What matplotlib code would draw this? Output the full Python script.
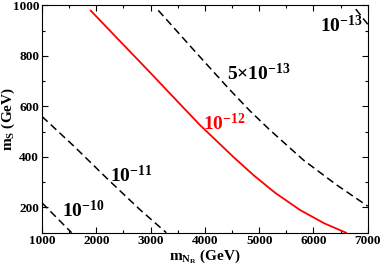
import matplotlib
matplotlib.use("Agg")
import matplotlib.pyplot as plt
from matplotlib.ticker import MultipleLocator

plt.rcParams['font.family'] = 'Liberation Serif'
plt.rcParams['font.weight'] = 'bold'
plt.rcParams['axes.labelweight'] = 'bold'
plt.rcParams['mathtext.fontset'] = 'custom'
plt.rcParams['mathtext.rm'] = 'Liberation Serif:bold'
plt.rcParams['mathtext.it'] = 'Liberation Serif:bold'
plt.rcParams['mathtext.bf'] = 'Liberation Serif:bold'

# contours in the (m_NR, m_S) plane
x_1e12 = [1897, 2400, 2929, 3542, 3910, 4524, 4900, 5300, 5752, 6200, 6600]
y_1e12 = [979, 866, 748, 609, 526, 400, 327, 257, 190, 137, 100]

x_5e13 = [3142, 3787, 4432, 4831, 5200, 5813, 6428, 7000]
y_5e13 = [980, 825, 672, 582, 506, 388, 289, 205]

x_1e13 = [6780, 7000]
y_1e13 = [985, 925]

x_1e11 = [1000, 1600, 2200, 2800, 3290]
y_1e11 = [560, 440, 314, 192, 100]

x_1e10 = [1000, 1240, 1545]
y_1e10 = [218, 166, 100]

fig = plt.figure(figsize=(3.82, 2.72), dpi=100)
ax = fig.add_axes([0.110, 0.1445, 0.8526, 0.836])

dash = (0, (5, 2.8))
ax.plot(x_1e12, y_1e12, color='red', lw=1.3)
ax.plot(x_5e13, y_5e13, color='black', lw=1.1, linestyle=dash)
ax.plot(x_1e13, y_1e13, color='black', lw=1.1, linestyle=dash)
ax.plot(x_1e11, y_1e11, color='black', lw=1.1, linestyle=dash)
ax.plot(x_1e10, y_1e10, color='black', lw=1.1, linestyle=dash)

ax.text(3960, 505, r'$10^{-12}$', color='red', fontsize=14)
ax.text(4415, 705, r'5×$10^{-13}$', color='black', fontsize=14)
ax.text(6120, 895, r'$10^{-13}$', color='black', fontsize=14)
ax.text(2250, 300, r'$10^{-11}$', color='black', fontsize=14)
ax.text(1360, 160, r'$10^{-10}$', color='black', fontsize=14)

ax.set_xlim(1000, 7000)
ax.set_ylim(100, 1000)
ax.xaxis.set_major_locator(MultipleLocator(1000))
ax.xaxis.set_minor_locator(MultipleLocator(500))
ax.yaxis.set_major_locator(MultipleLocator(200))
ax.yaxis.set_minor_locator(MultipleLocator(100))
ax.tick_params(which='both', direction='in', top=True, right=True, labelsize=9.5, width=0.8)
ax.tick_params(which='major', length=4, pad=2)
ax.tick_params(which='minor', length=2.5)
for lab in ax.get_xticklabels() + ax.get_yticklabels():
    lab.set_fontweight('bold')
for s in ax.spines.values():
    s.set_linewidth(0.8)

ax.set_xlabel(r'$\mathrm{m}_{\mathrm{N}_\mathrm{R}}$ (GeV)', fontsize=11, labelpad=0)
ax.set_ylabel(r'$\mathrm{m}_\mathrm{S}$ (GeV)', fontsize=11)
ax.yaxis.set_label_coords(-0.076, 0.5)

fig.savefig('out.png', dpi=100)
